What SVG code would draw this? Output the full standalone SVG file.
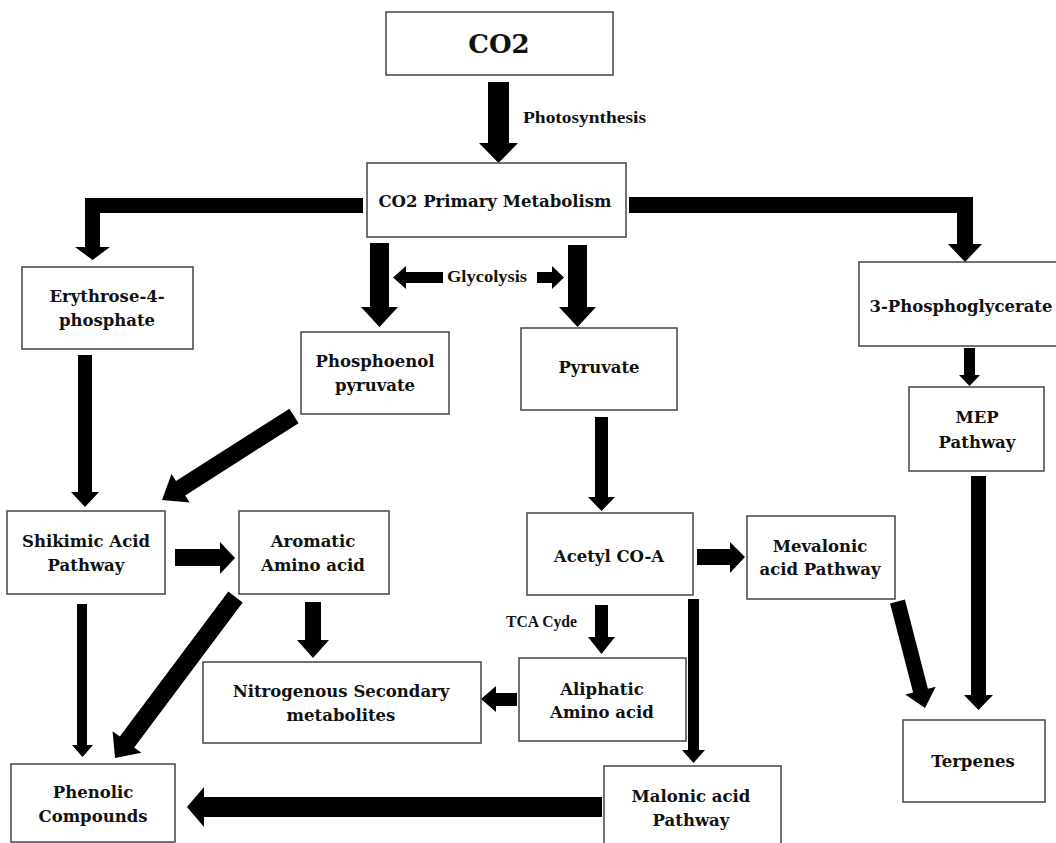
<svg xmlns="http://www.w3.org/2000/svg" width="1056" height="843" viewBox="0 0 1056 843">
<style>
.box{fill:#fff;stroke:#444;stroke-width:1.5}
.t{font-family:"DejaVu Serif","Liberation Serif",serif;font-weight:bold;font-size:16.5px;fill:#111;text-anchor:middle}
.big{font-size:26px}
.lbl{font-family:"Liberation Serif",serif;font-weight:bold;font-size:17px;fill:#111}
.arr{fill:#000}
</style>
<rect width="1056" height="843" fill="#fff"/>
<g id="connectors" class="arr">
<polygon points="488,82 509,82 509,143 518,143 498.5,163 479,143 488,143"/>
<polygon points="363,198 85,198 85,247 75,247 92.5,260 110,247 100,247 100,213 363,213"/>
<polygon points="629,197 973,197 973,244 982,244 965,262 948,244 957,244 957,213 629,213"/>
<polygon points="370,243 389,243 389,307 398,307 379.5,327 361,307 370,307"/>
<polygon points="568,245 587,245 587,307 596,307 577.5,327 559,307 568,307"/>
<polygon points="443,272 443,283 406,283 406,289 393,277.5 406,266 406,272"/>
<polygon points="537,272 552,272 552,266 564,277.5 552,289 552,283 537,283"/>
<polygon points="78,355 92,355 92,492 99,492 85,507 71,492 78,492"/>
<polygon points="289.4,408.8 298.6,423.2 185.2,495.4 189.7,502.5 162,500 171.5,473.9 176,481"/>
<polygon points="175,549 220,549 220,542 235,558 220,574 220,566 175,566"/>
<polygon points="77,604 87,604 87,745 93,745 82.5,757 72,745 77,745"/>
<polygon points="228.3,591.6 242.7,602.4 134.2,747.4 141.4,752.8 115,758 112.6,731.2 119.8,736.6"/>
<polygon points="305,602 321,602 321,640 329,640 313,658 297,640 305,640"/>
<polygon points="595,417 608,417 608,497 615,497 601.5,511 588,497 595,497"/>
<polygon points="697,549 730,549 730,542 745,557 730,573 730,565 697,565"/>
<polygon points="595,605 608,605 608,637 615,637 601.5,654 588,637 595,637"/>
<polygon points="688,599 699,599 699,750 705,750 693.5,763 682,750 688,750"/>
<polygon points="517,693 517,706 496,706 496,712 481,699 496,686 496,693"/>
<polygon points="602,797 602,817 204,817 204,827 187,807 204,787 204,797"/>
<polygon points="964,348 975,348 975,375 980,375 969.5,386 959,375 964,375"/>
<polygon points="971,476 986,476 986,695 993,695 978.5,710 964,695 971,695"/>
<polygon points="890.1,603.4 904.9,599.6 927.9,688.7 935.7,686.7 925,708 905.3,694.5 913.1,692.5"/>
<text class="lbl" x="523" y="123" textLength="123" lengthAdjust="spacingAndGlyphs">Photosynthesis</text>
<text class="lbl" x="447" y="282" textLength="80" lengthAdjust="spacingAndGlyphs">Glycolysis</text>
<text class="lbl" x="506" y="627" textLength="71" lengthAdjust="spacingAndGlyphs">TCA Cyde</text>
</g>
<g id="n-co2"><rect class="box" x="386" y="12" width="227" height="63"/><text class="t big" x="499" y="53">CO2</text></g>
<g id="n-primary"><rect class="box" x="367" y="163" width="259" height="74"/><text class="t" x="495" y="207">CO2 Primary Metabolism</text></g>
<g id="n-erythrose"><rect class="box" x="22" y="267" width="171" height="82"/><text class="t" x="107" y="302">Erythrose-4-</text><text class="t" x="107" y="326">phosphate</text></g>
<g id="n-pep"><rect class="box" x="301" y="332" width="148" height="82"/><text class="t" x="375" y="367">Phosphoenol</text><text class="t" x="375" y="391">pyruvate</text></g>
<g id="n-pyruvate"><rect class="box" x="521" y="328" width="156" height="82"/><text class="t" x="599" y="373">Pyruvate</text></g>
<g id="n-3pg"><rect class="box" x="859" y="262" width="200" height="84"/><text class="t" x="961" y="312">3-Phosphoglycerate</text></g>
<g id="n-mep"><rect class="box" x="909" y="387" width="135" height="84"/><text class="t" x="977" y="423">MEP</text><text class="t" x="977" y="448">Pathway</text></g>
<g id="n-shikimic"><rect class="box" x="7" y="511" width="158" height="83"/><text class="t" x="86" y="547">Shikimic Acid</text><text class="t" x="86" y="571">Pathway</text></g>
<g id="n-aromatic"><rect class="box" x="239" y="511" width="150" height="83"/><text class="t" x="313" y="547">Aromatic</text><text class="t" x="313" y="571">Amino acid</text></g>
<g id="n-acetyl"><rect class="box" x="527" y="513" width="166" height="82"/><text class="t" x="609" y="562">Acetyl CO-A</text></g>
<g id="n-mevalonic"><rect class="box" x="747" y="516" width="148" height="83"/><text class="t" x="820" y="552">Mevalonic</text><text class="t" x="820" y="575">acid Pathway</text></g>
<g id="n-nitrogenous"><rect class="box" x="203" y="662" width="278" height="81"/><text class="t" x="341" y="697">Nitrogenous Secondary</text><text class="t" x="341" y="721">metabolites</text></g>
<g id="n-aliphatic"><rect class="box" x="519" y="658" width="167" height="83"/><text class="t" x="602" y="695">Aliphatic</text><text class="t" x="602" y="718">Amino acid</text></g>
<g id="n-phenolic"><rect class="box" x="11" y="764" width="164" height="78"/><text class="t" x="93" y="798">Phenolic</text><text class="t" x="93" y="822">Compounds</text></g>
<g id="n-malonic"><rect class="box" x="604" y="766" width="177" height="82"/><text class="t" x="691" y="802">Malonic acid</text><text class="t" x="691" y="826">Pathway</text></g>
<g id="n-terpenes"><rect class="box" x="903" y="720" width="142" height="82"/><text class="t" x="973" y="767">Terpenes</text></g>
</svg>
